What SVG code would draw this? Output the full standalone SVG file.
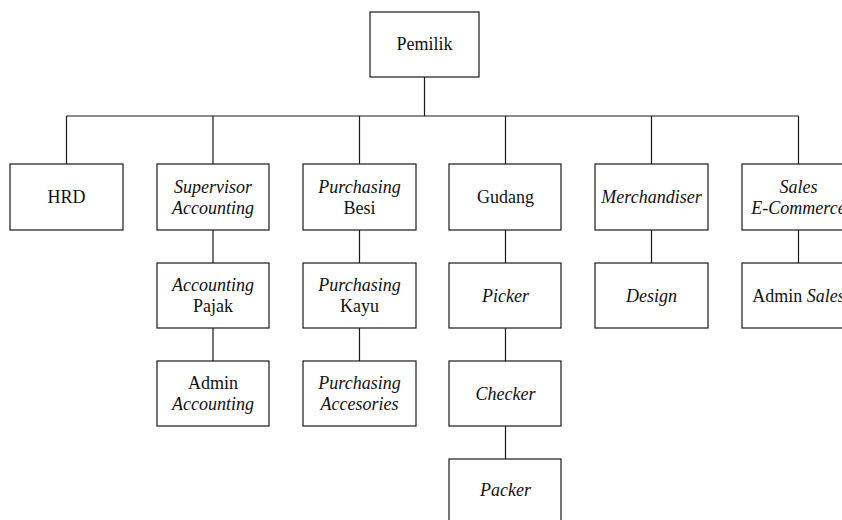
<svg xmlns="http://www.w3.org/2000/svg" width="842" height="520" viewBox="0 0 842 520">
  <style>
    .box { fill: #ffffff; stroke: #1a1a1a; stroke-width: 1.2; }
    .link { fill: none; stroke: #1a1a1a; stroke-width: 1.2; }
    text { font-family: "Liberation Serif", "Times New Roman", serif; font-size: 18px; fill: #111111; text-anchor: middle; }
    .it { font-style: italic; }
  </style>
  <rect width="842" height="520" fill="#ffffff"/>

  <!-- connectors -->
  <g id="connectors">
    <path class="link" d="M424.5 77 V116 M66.5 116 H798.5"/>
    <path class="link" d="M66.5 116 V164 M213 116 V164 M359.5 116 V164 M505.5 116 V164 M651.5 116 V164 M798.5 116 V164"/>
    <path class="link" d="M213 230 V263 M213 328 V361"/>
    <path class="link" d="M359.5 230 V263 M359.5 328 V361"/>
    <path class="link" d="M505.5 230 V263 M505.5 328 V361 M505.5 426 V459"/>
    <path class="link" d="M651.5 230 V263"/>
    <path class="link" d="M798.5 230 V263"/>
  </g>

  <!-- top -->
  <g id="pemilik">
    <rect class="box" x="370" y="12" width="109" height="65"/>
    <text x="424.5" y="50">Pemilik</text>
  </g>

  <!-- first level -->
  <g id="hrd">
    <rect class="box" x="10" y="164" width="113" height="66"/>
    <text x="66.5" y="203">HRD</text>
  </g>
  <g id="supervisor-accounting">
    <rect class="box" x="157" y="164" width="112" height="66"/>
    <text class="it" x="213" y="192.5">Supervisor</text>
    <text class="it" x="213" y="213.5">Accounting</text>
  </g>
  <g id="purchasing-besi">
    <rect class="box" x="303" y="164" width="113" height="66"/>
    <text x="359.5" y="192.5"><tspan class="it">Purchasing</tspan></text>
    <text x="359.5" y="213.5">Besi</text>
  </g>
  <g id="gudang">
    <rect class="box" x="449" y="164" width="112" height="66"/>
    <text x="505.5" y="203">Gudang</text>
  </g>
  <g id="merchandiser">
    <rect class="box" x="595" y="164" width="113" height="66"/>
    <text class="it" x="651.5" y="203">Merchandiser</text>
  </g>
  <g id="sales-ecommerce">
    <rect class="box" x="742" y="164" width="113" height="66"/>
    <text class="it" x="798.5" y="192.5">Sales</text>
    <text class="it" x="798.5" y="213.5">E-Commerce</text>
  </g>

  <!-- second level -->
  <g id="accounting-pajak">
    <rect class="box" x="157" y="263" width="112" height="65"/>
    <text class="it" x="213" y="291">Accounting</text>
    <text x="213" y="312">Pajak</text>
  </g>
  <g id="purchasing-kayu">
    <rect class="box" x="303" y="263" width="113" height="65"/>
    <text class="it" x="359.5" y="291">Purchasing</text>
    <text x="359.5" y="312">Kayu</text>
  </g>
  <g id="picker">
    <rect class="box" x="449" y="263" width="112" height="65"/>
    <text class="it" x="505.5" y="301.5">Picker</text>
  </g>
  <g id="design">
    <rect class="box" x="595" y="263" width="113" height="65"/>
    <text class="it" x="651.5" y="301.5">Design</text>
  </g>
  <g id="admin-sales">
    <rect class="box" x="742" y="263" width="113" height="65"/>
    <text x="798.5" y="301.5">Admin <tspan class="it">Sales</tspan></text>
  </g>

  <!-- third level -->
  <g id="admin-accounting">
    <rect class="box" x="157" y="361" width="112" height="65"/>
    <text x="213" y="389">Admin</text>
    <text class="it" x="213" y="410">Accounting</text>
  </g>
  <g id="purchasing-accesories">
    <rect class="box" x="303" y="361" width="113" height="65"/>
    <text class="it" x="359.5" y="389">Purchasing</text>
    <text class="it" x="359.5" y="410">Accesories</text>
  </g>
  <g id="checker">
    <rect class="box" x="449" y="361" width="112" height="65"/>
    <text class="it" x="505.5" y="399.5">Checker</text>
  </g>

  <!-- fourth level -->
  <g id="packer">
    <rect class="box" x="449" y="459" width="112" height="66"/>
    <text class="it" x="505.5" y="496">Packer</text>
  </g>
</svg>
